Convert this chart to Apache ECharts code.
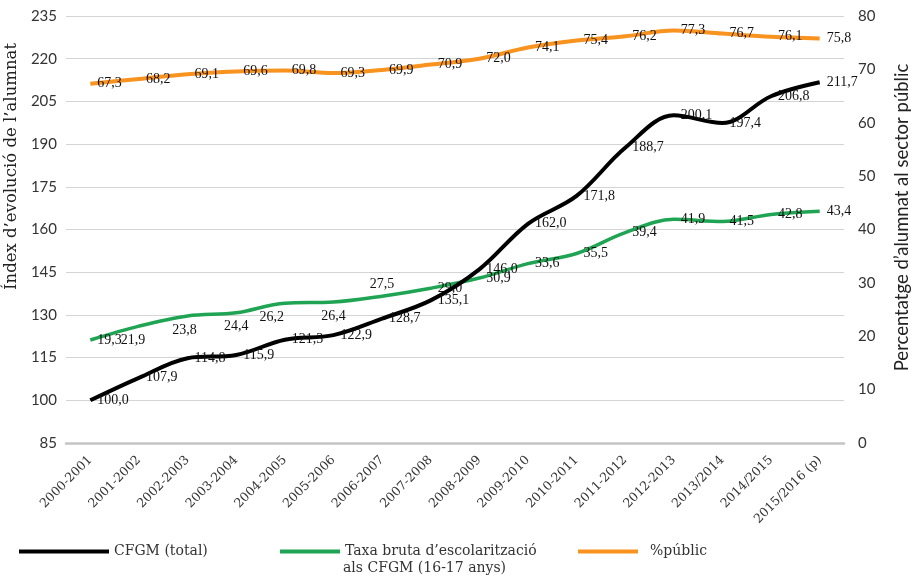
<!DOCTYPE html>
<html>
<head>
<meta charset="utf-8">
<script src="https://cdn.jsdelivr.net/npm/echarts@6/dist/echarts.min.js"></script>
<style>
  html, body { margin: 0; padding: 0; background: #fff; }
  #chart { width: 913px; height: 577px; }
</style>
</head>
<body>
<div id="chart"></div>
<script>
const courses = ["2000-2001", "2001-2002", "2002-2003", "2003-2004", "2004-2005", "2005-2006",
  "2006-2007", "2007-2008", "2008-2009", "2009-2010", "2010-2011", "2011-2012", "2012-2013",
  "2013/2014", "2014/2015", "2015/2016 (p)"];
const cfgmTotal = [100.0, 107.9, 114.8, 115.9, 121.3, 122.9, 128.7, 135.1, 146.0, 162.0, 171.8, 188.7, 200.1, 197.4, 206.8, 211.7];
const taxaBruta = [19.3, 21.9, 23.8, 24.4, 26.2, 26.4, 27.5, 29.0, 30.9, 33.6, 35.5, 39.4, 41.9, 41.5, 42.8, 43.4];
const pctPublic = [67.3, 68.2, 69.1, 69.6, 69.8, 69.3, 69.9, 70.9, 72.0, 74.1, 75.4, 76.2, 77.3, 76.7, 76.1, 75.8];

const serif = "DejaVu Serif";
const labelFont = "Liberation Serif";
const sans = "Lato";
const fmt = (p) => (typeof p.value === "object" ? p.value.value : p.value).toFixed(1).replace(".", ",");

// a few green labels sit under the line in the original
const greenPos = { 1: ["bottom", [-6, 0]], 2: ["bottom", [-3, 0]], 3: ["bottom", [0, 0]], 4: ["bottom", [-13, 0]], 5: ["bottom", [0, 0]], 6: ["top", [0, 2]] };
const greenData = taxaBruta.map((v, i) => {
  if (!greenPos[i]) return v;
  return { value: v, label: { position: greenPos[i][0], offset: greenPos[i][1] } };
});

const chart = echarts.init(document.getElementById("chart"));
const dataLabel = {
  show: true,
  position: "right",
  distance: 7,
  color: "#111",
  fontFamily: labelFont,
  fontSize: 14,
  formatter: fmt,
};
const legendText = { fontFamily: serif, fontSize: 14, color: "#333", lineHeight: 19 };
const option = {
  backgroundColor: "#fff",
  animation: false,
  grid: { left: 66, right: 69, top: 16, bottom: 134, outerBoundsMode: "none" },
  legend: [
    { data: ["CFGM (total)"], left: 14, top: 537, itemWidth: 90, itemHeight: 4, icon: "rect", textStyle: legendText },
    { data: ["Taxa bruta d’escolarització"], left: 275, top: 537, itemWidth: 60, itemHeight: 4, icon: "rect", textStyle: legendText },
    {
      data: ["%públic"], left: 573, top: 537, itemWidth: 60, itemHeight: 4, icon: "rect",
      textStyle: Object.assign({}, legendText, { padding: [0, 0, 0, 7] }),
    },
  ],
  graphic: [
    {
      type: "text", left: 343, top: 561,
      style: { text: "als CFGM (16-17 anys)", font: "14px 'DejaVu Serif'", fill: "#333" },
    },
  ],
  xAxis: {
    type: "category",
    data: courses,
    boundaryGap: true,
    axisLine: { lineStyle: { color: "#c4c4c4", width: 2.5 } },
    axisTick: { show: false },
    axisLabel: { rotate: 45, interval: 0, margin: 15, fontFamily: serif, fontSize: 12.5, color: "#333" },
  },
  yAxis: [
    {
      type: "value", min: 85, max: 235, interval: 15,
      name: "Índex d’evolució de l’alumnat",
      nameLocation: "middle", nameGap: 38, nameRotate: 90,
      nameTextStyle: { fontFamily: serif, fontSize: 16.5, color: "#222", padding: [0, 0, 0, 126] },
      axisLine: { show: false }, axisTick: { show: false },
      axisLabel: { fontFamily: sans, fontSize: 15, color: "#333", margin: 9 },
      splitLine: { lineStyle: { color: "#d4d4d4", width: 1 } },
    },
    {
      type: "value", min: 0, max: 80, interval: 10,
      name: "Percentatge d’alumnat al sector públic",
      nameLocation: "middle", nameGap: 49, nameRotate: 90,
      nameTextStyle: { fontFamily: sans, fontSize: 18.5, color: "#222", padding: [0, 0, 0, 24] },
      axisLine: { show: false }, axisTick: { show: false },
      axisLabel: { fontFamily: sans, fontSize: 15, color: "#333", margin: 14 },
      splitLine: { show: false },
    },
  ],
  series: [
    {
      name: "CFGM (total)", type: "line", yAxisIndex: 0, data: cfgmTotal,
      smooth: 0.35, symbol: "circle", symbolSize: 0, showAllSymbol: true, color: "#000",
      lineStyle: { width: 4, color: "#000" },
      label: dataLabel, z: 3,
    },
    {
      name: "Taxa bruta d’escolarització", type: "line", yAxisIndex: 1, data: greenData,
      smooth: 0.35, symbol: "circle", symbolSize: 0, showAllSymbol: true, color: "#1fa453",
      lineStyle: { width: 3.5, color: "#1fa453" },
      label: dataLabel, z: 2,
    },
    {
      name: "%públic", type: "line", yAxisIndex: 1, data: pctPublic,
      smooth: 0.35, symbol: "circle", symbolSize: 0, showAllSymbol: true, color: "#f7931e",
      lineStyle: { width: 4, color: "#f7931e" },
      label: dataLabel, z: 2,
    },
  ],
};
chart.setOption(option);
</script>
</body>
</html>
